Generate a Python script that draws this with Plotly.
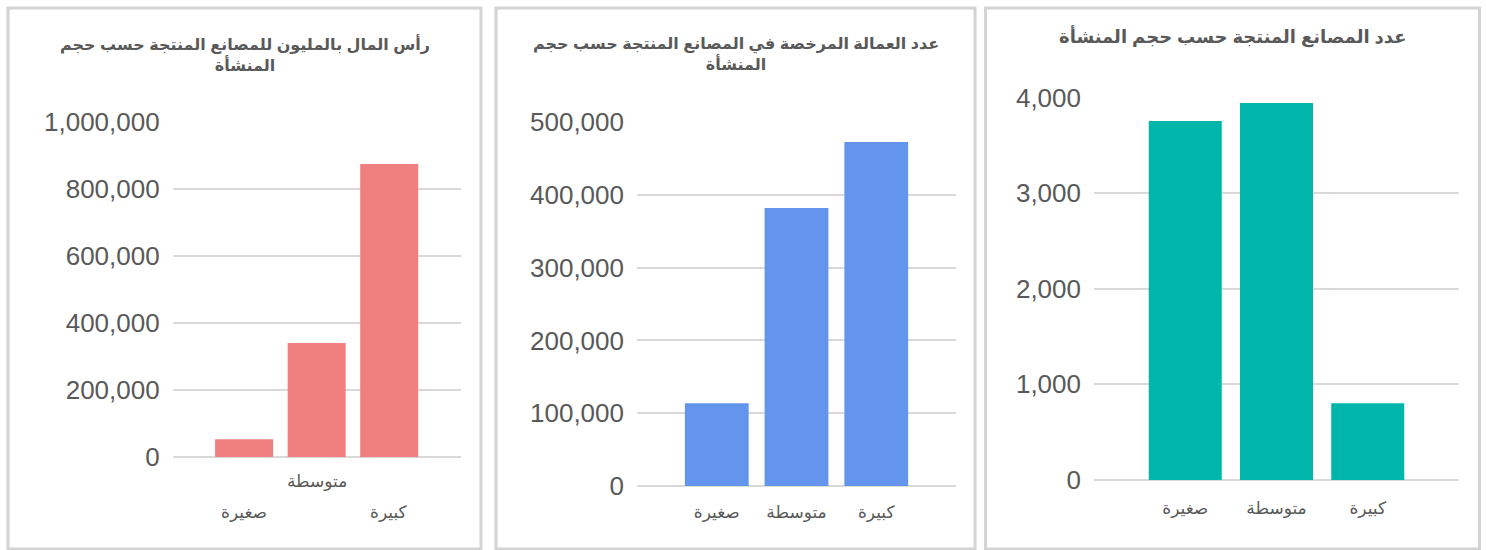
import plotly.graph_objects as go

# ---- data ----
categories = ["صغيرة", "متوسطة", "كبيرة"]
capital_millions = [53000, 340000, 875000]
licensed_labour = [113500, 382000, 472500]
factory_count = [3755, 3943, 802]

titles = [
    "رأس المال بالمليون للمصانع المنتجة حسب حجم<br>المنشأة",
    "عدد العمالة المرخصة في المصانع المنتجة حسب حجم<br>المنشأة",
    "عدد المصانع المنتجة حسب حجم المنشأة",
]
colors = ["#F08080", "#6495ED", "#00B6AA"]

W, H = 1486, 550
TXT = "#595959"
GRID = "#D9D9D9"
NUMFONT = "Liberation Sans, Arial, sans-serif"
ARFONT = "Liberation Sans, DejaVu Sans, sans-serif"


def xd(a, b):
    return [a / W, b / W]


def yd(top, bottom):
    return [(H - bottom) / H, (H - top) / H]


fig = go.Figure()

panels = [
    dict(vals=capital_millions, x=(172.7, 461), y=(122, 457), rng=[0, 1000000], dt=200000, xr=[-0.985, 2.99]),
    dict(vals=licensed_labour, x=(637, 956), y=(122, 486), rng=[0, 500000], dt=100000, xr=[-1.0, 3.0]),
    dict(vals=factory_count, x=(1094, 1459), y=(97.5, 480), rng=[0, 4000], dt=1000, xr=[-1.0, 3.0]),
]

boxes = [(8, 481), (496, 975), (985.5, 1479.5)]
title_pos = [(245, 53.5), (735.5, 53.5), (1232.5, 37)]
title_sizes = [16, 16, 18]

for i, p in enumerate(panels):
    n = "" if i == 0 else str(i + 1)
    fig.add_trace(go.Bar(
        x=categories, y=p["vals"], marker=dict(color=colors[i], line=dict(width=0)),
        xaxis="x" + n, yaxis="y" + n, showlegend=False,
    ))
    show_ticks = i > 0
    fig.update_layout(**{
        "xaxis" + n: dict(
            domain=xd(*p["x"]), anchor="y" + n, type="category", range=p["xr"],
            showgrid=False, showline=False, zeroline=False, ticks="", automargin=False,
            showticklabels=show_ticks, ticklabelstandoff=14 if i == 1 else 16,
            tickfont=dict(family=ARFONT, size=17, color=TXT), fixedrange=True,
        ),
        "yaxis" + n: dict(
            domain=yd(*p["y"]), anchor="x" + n, range=p["rng"], dtick=p["dt"],
            tickformat=",d", showgrid=True, gridcolor=GRID, gridwidth=2, automargin=False,
            zeroline=True, zerolinecolor=GRID, zerolinewidth=2, showline=False,
            ticks="", ticklabelstandoff=12,
            tickfont=dict(family=NUMFONT, size=26, color=TXT), fixedrange=True,
        ),
    })
    # panel border
    bx0, bx1 = boxes[i]
    fig.add_shape(type="rect", xref="paper", yref="paper",
                  x0=bx0 / W, x1=bx1 / W, y0=(H - 549) / H, y1=(H - 8) / H,
                  line=dict(color="#D4D4D4", width=3), fillcolor="rgba(0,0,0,0)", layer="below")
    # title
    tx, ty = title_pos[i]
    fig.add_annotation(text=titles[i], xref="paper", yref="paper", x=tx / W, y=(H - ty) / H,
                       xanchor="center", yanchor="middle", showarrow=False, align="center",
                       font=dict(family=ARFONT, size=title_sizes[i], color=TXT, weight="bold"))

# staggered category labels for the first panel
stagger_y = [512, 481.5, 512]
for cat, yy in zip(categories, stagger_y):
    fig.add_annotation(text=cat, xref="x", yref="paper", x=cat, y=(H - yy) / H,
                       xanchor="center", yanchor="middle", showarrow=False,
                       font=dict(family=ARFONT, size=17, color=TXT))

fig.update_layout(
    width=W, height=H, margin=dict(l=0, r=0, t=0, b=0, autoexpand=False),
    paper_bgcolor="white", plot_bgcolor="white", bargap=0.2,
)

fig.write_html(
    "out.html",
    config={"responsive": False, "displayModeBar": False},
    post_script="document.body.style.margin='0';document.body.style.overflow='hidden';",
)
